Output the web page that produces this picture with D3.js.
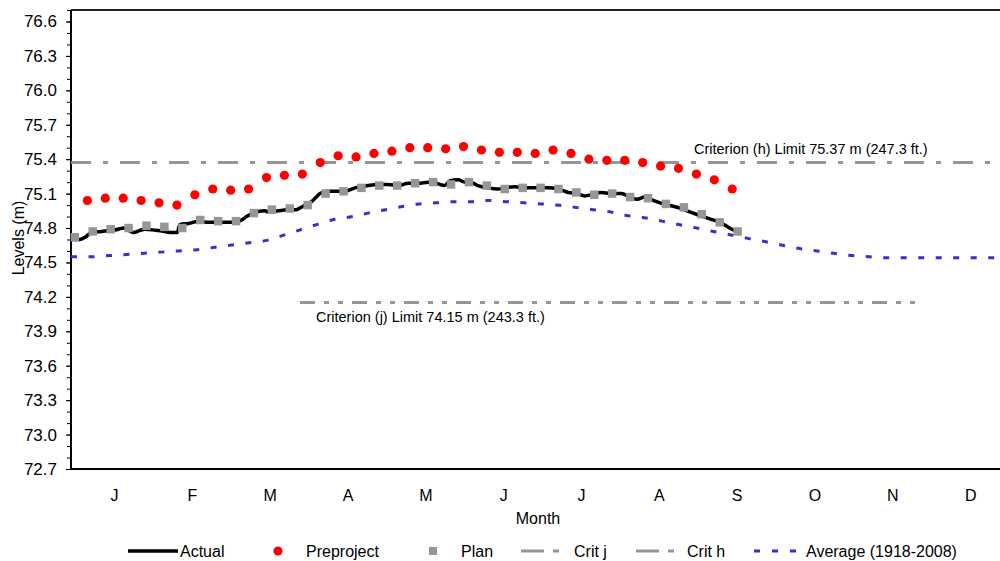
<!DOCTYPE html>
<html>
<head>
<meta charset="utf-8">
<script src="https://cdn.jsdelivr.net/npm/d3@7"></script>
<style>
  body { margin: 0; background: #fff; }
  svg text { font-family: Arial, "Liberation Sans", sans-serif; fill: #000; }
</style>
</head>
<body>
<script>
// ---- data ----
let months = ["J", "F", "M", "A", "M", "J", "J", "A", "S", "O", "N", "D"];
let yTicks = [72.7, 73.0, 73.3, 73.6, 73.9, 74.2, 74.5, 74.8, 75.1, 75.4, 75.7, 76.0, 76.3, 76.6];

// plan: weekly from day 1.5
let planStart = 1.5;
let planValues = [74.72, 74.77, 74.79, 74.80, 74.82, 74.81, 74.80, 74.87, 74.86, 74.86,
  74.93, 74.96, 74.97, 75.00, 75.10, 75.12, 75.15, 75.17, 75.17, 75.19,
  75.20, 75.18, 75.20, 75.17, 75.14, 75.15, 75.15, 75.14, 75.11, 75.09,
  75.10, 75.07, 75.06, 75.01, 74.98, 74.92, 74.85, 74.77];

// preproject: weekly from day 6.4
let preStart = 6.4;
let preValues = [75.04, 75.06, 75.06, 75.04, 75.02, 75.00, 75.09, 75.14, 75.13, 75.14,
  75.24, 75.26, 75.27, 75.37, 75.43, 75.42, 75.45, 75.47, 75.50, 75.50,
  75.49, 75.51, 75.48, 75.46, 75.46, 75.45, 75.48, 75.45, 75.40, 75.39,
  75.39, 75.37, 75.34, 75.32, 75.27, 75.22, 75.14];

// actual daily levels (sampled)
let actualDays = [0, 3.5, 5.5, 8, 12, 16, 18.5, 20.5, 22.5, 24.5, 27, 29, 33, 36.5, 39.5, 41.5,
  42.5, 46, 50, 53.5, 57.5, 61.5, 64, 66.7, 68.6, 71.2, 75.8, 77, 85, 88, 90.7, 94, 97.3,
  100, 104.4, 107, 111, 116, 120, 124, 128, 131.8, 135.7, 139.6, 142.8, 146, 148, 151.3,
  154, 156, 159, 163, 167, 169.5, 173.4, 177.3, 182.5, 186.4, 190.3, 194.3, 197.5, 200.8,
  203.4, 207.3, 211.2, 215.1, 218.4, 221.3, 224.2, 227.5, 231.4, 235.3, 238.6, 241.8,
  245.7, 249.6, 253.5, 257.4, 260];
let actualValues = [74.70, 74.70, 74.72, 74.76, 74.77, 74.78, 74.79, 74.80, 74.78, 74.76,
  74.78, 74.79, 74.78, 74.77, 74.76, 74.76, 74.83, 74.84, 74.86, 74.85, 74.85, 74.85,
  74.85, 74.87, 74.90, 74.93, 74.95, 74.94, 74.96, 74.96, 74.99, 75.03, 75.10, 75.12,
  75.12, 75.12, 75.15, 75.17, 75.18, 75.18, 75.17, 75.19, 75.19, 75.20, 75.19, 75.17,
  75.21, 75.22, 75.20, 75.20, 75.17, 75.15, 75.14, 75.15, 75.16, 75.15, 75.15, 75.15,
  75.14, 75.11, 75.10, 75.08, 75.09, 75.11, 75.10, 75.10, 75.07, 75.05, 75.07, 75.04,
  75.01, 74.99, 74.97, 74.94, 74.91, 74.88, 74.85, 74.80, 74.77];

// average 1918-2008
let avgDays = [0, 8, 15, 22, 28.5, 35, 42, 49, 55.5, 62, 69, 76, 82, 89, 96, 102, 110, 116,
  123, 130, 136, 143, 150, 157, 163, 170, 177, 184, 190, 197, 204, 211, 217, 224, 231,
  237.5, 244.5, 251, 258, 264.5, 271.5, 278, 285, 291.5, 298, 305, 312, 319, 325, 332,
  339, 346, 352, 359, 365];
let avgValues = [74.55, 74.55, 74.56, 74.57, 74.58, 74.59, 74.60, 74.61, 74.63, 74.65,
  74.67, 74.69, 74.73, 74.78, 74.83, 74.87, 74.90, 74.93, 74.96, 74.99, 75.01, 75.02,
  75.03, 75.03, 75.04, 75.03, 75.02, 75.01, 75.00, 74.98, 74.96, 74.94, 74.91, 74.89,
  74.86, 74.83, 74.80, 74.77, 74.74, 74.71, 74.68, 74.65, 74.62, 74.60, 74.58, 74.56,
  74.55, 74.54, 74.54, 74.54, 74.54, 74.54, 74.54, 74.54, 74.54];

let critH = 75.37;
let critJ = 74.15;
let critJDays = [89.5, 331];

// ---- layout ----
let plotLeft = 71, plotTop = 10, plotBottom = 469, plotRight = 1005;

let svg = d3.select("body").append("svg")
  .attr("width", 1000)
  .attr("height", 561);

let x = d3.scaleLinear().domain([0, 365]).range([plotLeft, plotRight]);
let y = d3.scaleLinear().domain([72.7, 76.7]).range([plotBottom, plotTop]);

// frame
svg.append("line").attr("x1", plotLeft).attr("x2", plotRight)
  .attr("y1", plotTop).attr("y2", plotTop)
  .attr("stroke", "#222").attr("stroke-width", 2);

// y axis with minor ticks
let minor = d3.range(72.7, 76.75, 0.1);
svg.append("g")
  .attr("transform", `translate(${plotLeft},0)`)
  .call(d3.axisLeft(y).tickValues(minor).tickSize(4).tickFormat(""))
  .call(g => g.select(".domain").remove())
  .call(g => g.selectAll("line").attr("stroke", "#000"));

let yAxis = svg.append("g")
  .attr("transform", `translate(${plotLeft},0)`)
  .call(d3.axisLeft(y).tickValues(yTicks).tickSize(5).tickPadding(9)
    .tickFormat(d3.format(".1f")));
yAxis.select(".domain").attr("stroke-width", 2).attr("d", `M0,${plotTop}V${plotBottom}`);
yAxis.selectAll("text").style("font-size", "17px").attr("fill", "#000");

// x axis line + month labels
svg.append("line").attr("x1", plotLeft).attr("x2", plotRight)
  .attr("y1", plotBottom).attr("y2", plotBottom)
  .attr("stroke", "#000").attr("stroke-width", 2);

svg.selectAll(".month")
  .data(months)
  .enter()
  .append("text")
  .attr("class", "month")
  .attr("x", function (d, i) { return x(i * 365 / 12 + 17); })
  .attr("y", 501)
  .attr("text-anchor", "middle")
  .style("font-size", "16px")
  .text(function (d) { return d; });

svg.append("text")
  .attr("x", 538).attr("y", 524)
  .attr("text-anchor", "middle")
  .style("font-size", "16px")
  .text("Month");

svg.append("text")
  .attr("transform", "translate(24,238) rotate(-90)")
  .attr("text-anchor", "middle")
  .style("font-size", "16px")
  .text("Levels (m)");

// criterion lines
svg.append("line")
  .attr("x1", x(0)).attr("x2", x(365))
  .attr("y1", y(critH)).attr("y2", y(critH))
  .attr("stroke", "#959595").attr("stroke-width", 3)
  .attr("stroke-dasharray", "20,12,5,12");

svg.append("line")
  .attr("x1", x(critJDays[0])).attr("x2", x(critJDays[1]))
  .attr("y1", y(critJ)).attr("y2", y(critJ))
  .attr("stroke", "#959595").attr("stroke-width", 3)
  .attr("stroke-dasharray", "15,9,5,9,5,9");

svg.append("text")
  .attr("x", 694).attr("y", 154)
  .style("font-size", "14.5px")
  .text("Criterion (h) Limit 75.37 m (247.3 ft.)");

svg.append("text")
  .attr("x", 316).attr("y", 322)
  .style("font-size", "14.5px")
  .text("Criterion (j) Limit 74.15 m (243.3 ft.)");

// average line
let avgLine = d3.line()
  .x(function (d, i) { return x(avgDays[i]); })
  .y(function (d) { return y(d); })
  .curve(d3.curveMonotoneX);

svg.append("path")
  .datum(avgValues)
  .attr("d", avgLine)
  .attr("fill", "none")
  .attr("stroke", "#3333cc")
  .attr("stroke-width", 3)
  .attr("stroke-dasharray", "6,11.5");

// actual line
let actLine = d3.line()
  .x(function (d, i) { return x(actualDays[i]); })
  .y(function (d) { return y(d); })
  .curve(d3.curveMonotoneX);

svg.append("path")
  .datum(actualValues)
  .attr("d", actLine)
  .attr("fill", "none")
  .attr("stroke", "#000")
  .attr("stroke-width", 3.5)
  .attr("stroke-linejoin", "round");

// plan squares
let sq = 8.5;
svg.selectAll(".plan")
  .data(planValues)
  .enter()
  .append("rect")
  .attr("class", "plan")
  .attr("x", function (d, i) { return x(planStart + i * 7) - sq / 2; })
  .attr("y", function (d) { return y(d) - sq / 2; })
  .attr("width", sq)
  .attr("height", sq)
  .attr("fill", "#969696");

// preproject dots
svg.selectAll(".pre")
  .data(preValues)
  .enter()
  .append("circle")
  .attr("class", "pre")
  .attr("cx", function (d, i) { return x(preStart + i * 7); })
  .attr("cy", function (d) { return y(d); })
  .attr("r", 4.6)
  .attr("fill", "#ff0000");

// legend
let ly = 551;
let lg = svg.append("g");
lg.append("line").attr("x1", 128).attr("x2", 178).attr("y1", ly).attr("y2", ly)
  .attr("stroke", "#000").attr("stroke-width", 3.5);
lg.append("text").attr("x", 180).attr("y", ly + 6).style("font-size", "16px").text("Actual");

lg.append("circle").attr("cx", 278).attr("cy", ly).attr("r", 4.6).attr("fill", "#ff0000");
lg.append("text").attr("x", 306).attr("y", ly + 6).style("font-size", "16px").text("Preproject");

lg.append("rect").attr("x", 433 - 4).attr("y", ly - 4).attr("width", 8).attr("height", 8)
  .attr("fill", "#969696");
lg.append("text").attr("x", 461).attr("y", ly + 6).style("font-size", "16px").text("Plan");

lg.append("line").attr("x1", 521).attr("x2", 560).attr("y1", ly).attr("y2", ly)
  .attr("stroke", "#959595").attr("stroke-width", 3).attr("stroke-dasharray", "23,9,6,20");
lg.append("text").attr("x", 574).attr("y", ly + 6).style("font-size", "16px").text("Crit j");

lg.append("line").attr("x1", 636).attr("x2", 675).attr("y1", ly).attr("y2", ly)
  .attr("stroke", "#959595").attr("stroke-width", 3).attr("stroke-dasharray", "23,9,6,20");
lg.append("text").attr("x", 687).attr("y", ly + 6).style("font-size", "16px").text("Crit h");

lg.append("line").attr("x1", 754).attr("x2", 797).attr("y1", ly).attr("y2", ly)
  .attr("stroke", "#3333cc").attr("stroke-width", 3).attr("stroke-dasharray", "6,12");
lg.append("text").attr("x", 806).attr("y", ly + 6).style("font-size", "16px")
  .text("Average (1918-2008)");
</script>
</body>
</html>
